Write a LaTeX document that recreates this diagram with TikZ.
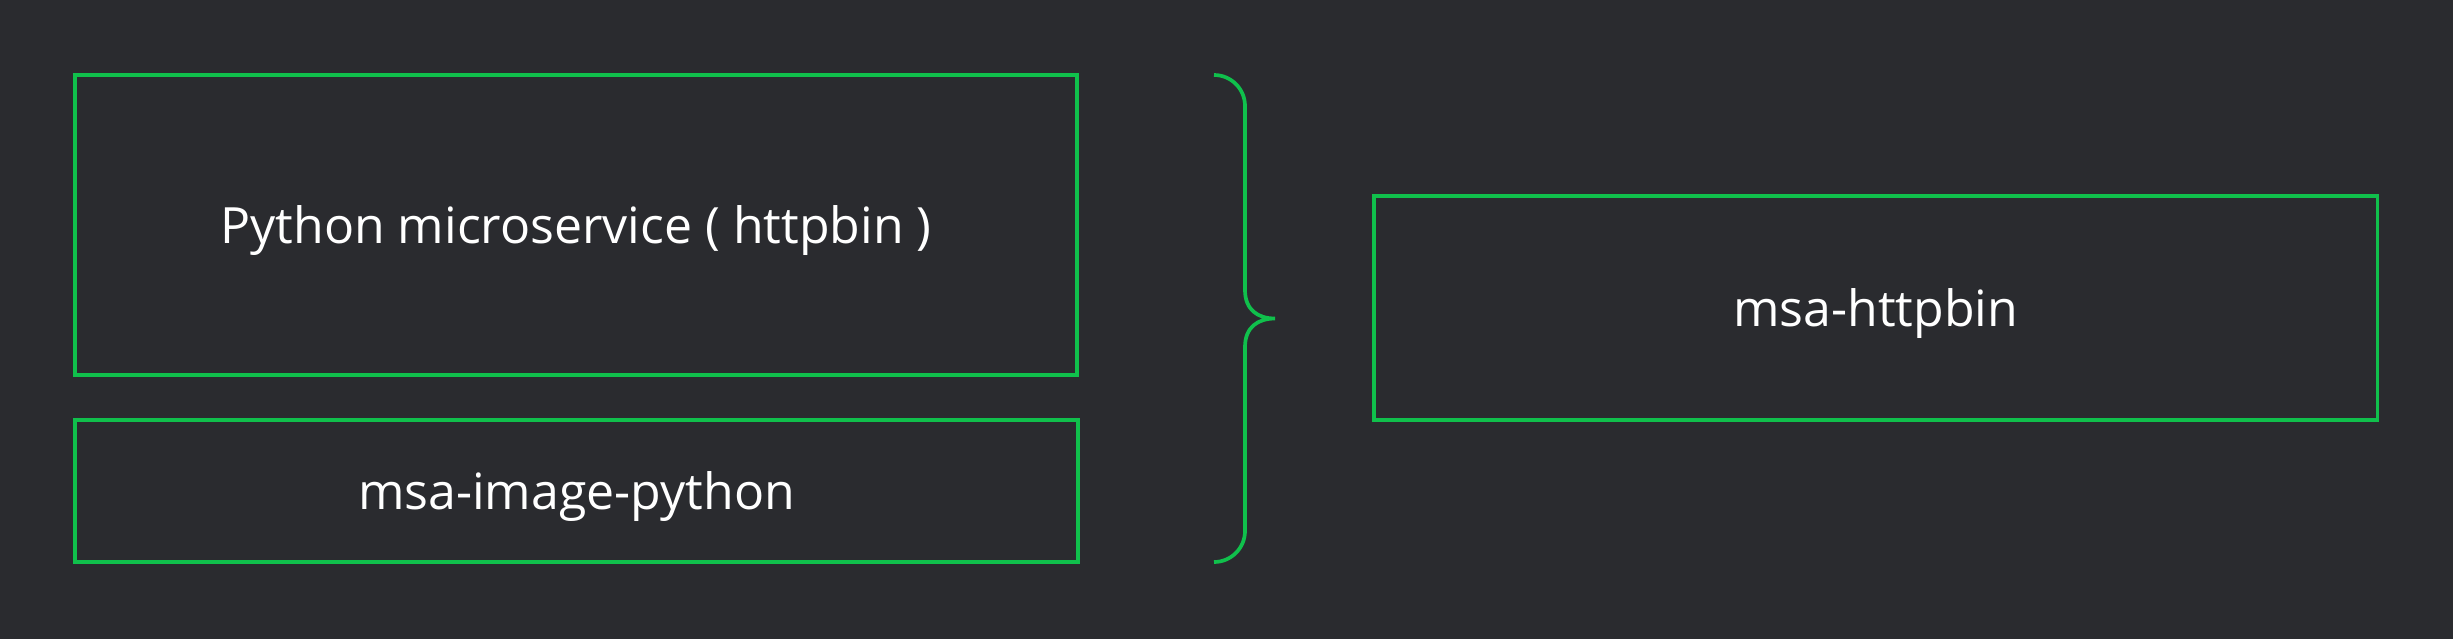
\documentclass[tikz,border=0pt]{standalone}
\usepackage{fontspec}
\setmainfont{Open Sans}
\definecolor{bg}{HTML}{2A2B2F}
\definecolor{grn}{HTML}{10C04C}
\begin{document}
\begin{tikzpicture}[x=1pt,y=-1pt,
  box/.style={draw=grn, line width=3.7pt, rectangle, inner sep=0pt, text=white,
    text height=47.5pt, text depth=10.5pt, font=\fontsize{50}{60}\selectfont},
  bracepath/.style={draw=grn, line width=3.7pt}]
\useasboundingbox (0,0) rectangle (2453,638);
\fill[bg] (-5,-5) rectangle (2458,643);
\node[box, minimum width=1002pt, minimum height=300pt] (py) at (576,225) {Python microservice ( httpbin )};
\node[box, minimum width=1003pt, minimum height=142.5pt] (img) at (576.5,491) {msa-image-python};
\node[box, minimum width=1003.5pt, minimum height=224pt] (hb) at (1875.75,308) {msa-httpbin};
\draw[bracepath] (1214,75) arc[start angle=-90, end angle=0, radius=31]
  -- (1245,290) .. controls (1245,310) and (1258,318.5) .. (1275,318.5)
  .. controls (1258,318.5) and (1245,327) .. (1245,347)
  -- (1245,531) arc[start angle=0, end angle=90, radius=31];
\end{tikzpicture}
\end{document}
